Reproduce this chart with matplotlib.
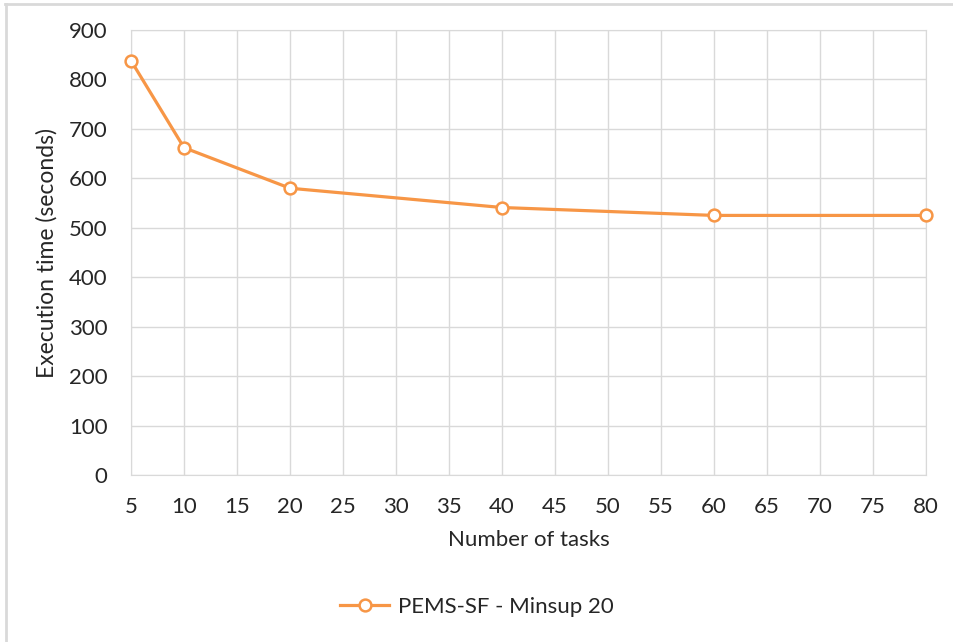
import matplotlib
matplotlib.use('Agg')
import matplotlib.pyplot as plt
from matplotlib.lines import Line2D

tasks = [5, 10, 20, 40, 60, 80]
exec_time = [838, 662, 580, 541, 525, 525]
series_name = 'PEMS-SF - Minsup 20'
xticks = list(range(5, 81, 5))
yticks = list(range(0, 901, 100))

plt.rcParams['font.family'] = ['Lato', 'DejaVu Sans']

fig = plt.figure(figsize=(9.54, 6.42), dpi=100)
ax = fig.add_axes([131/954, 1-475/642, (926-131)/954, (475-30)/642])

orange = '#F79646'
grid = '#D9D9D9'
txt = '#262626'
ax.plot(tasks, exec_time, color=orange, lw=2.3, marker='o', ms=8.5,
        mfc='white', mec=orange, mew=1.8, clip_on=False, zorder=3)

ax.set_xlim(5, 80)
ax.set_ylim(0, 900)
ax.set_xticks(xticks)
ax.set_yticks(yticks)
ax.grid(True, color=grid, lw=1)
ax.set_axisbelow(True)
for s in ax.spines.values():
    s.set_color(grid)
ax.tick_params(length=0, labelsize=16, colors=txt)
ax.tick_params(axis='y', pad=17)
ax.tick_params(axis='x', pad=16)
ax.set_xlabel('Number of tasks', fontsize=16, color=txt, labelpad=9)
ax.set_ylabel('Execution time (seconds)', fontsize=16.5, color=txt, labelpad=8)

handle = Line2D([], [], color=orange, lw=2.3, marker='o', ms=8.5,
                mfc='white', mec=orange, mew=1.8)
fig.legend([handle], [series_name], loc='center', bbox_to_anchor=(0.5, 1-607/642),
           frameon=False, fontsize=16, handlelength=2.2, handletextpad=0.4,
           labelcolor=txt)

# outer frame (top and left only)
fig.add_artist(Line2D([5/954, 1], [1-4/642, 1-4/642], color=grid, lw=2, transform=fig.transFigure))
fig.add_artist(Line2D([6/954, 6/954], [0, 1-4/642], color=grid, lw=2, transform=fig.transFigure))

fig.savefig('out.png', dpi=100)
